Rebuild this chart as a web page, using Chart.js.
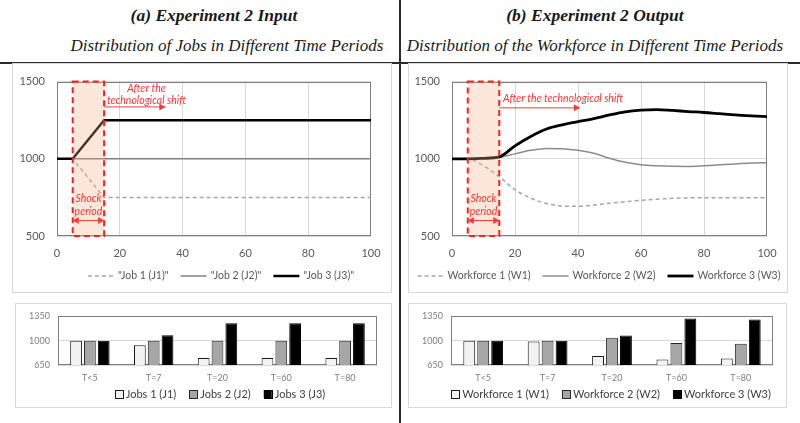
<!DOCTYPE html>
<html>
<head>
<meta charset="utf-8">
<script src="https://cdn.jsdelivr.net/npm/chart.js@4.4.0/dist/chart.umd.min.js"></script>
<style>
  body { margin: 0; width: 800px; height: 423px; background: #fff; position: relative; overflow: hidden; }
  .box { position: absolute; border: 1px solid #d9d9d9; box-sizing: border-box; }
  .box canvas { position: absolute; left: -1px; top: -1px; }
  .ttl { position: absolute; font-family: "Liberation Serif", serif; font-style: italic; color: #1a1a1a;
         white-space: nowrap; transform: translateX(-50%); line-height: 22px; }
  .rule { position: absolute; background: #2b2b2b; }
</style>
</head>
<body>
<div class="ttl" style="left:214px;top:4px;font-size:17.5px;font-weight:bold">(a) Experiment 2 Input</div>
<div class="ttl" style="left:227px;top:35px;font-size:17px">Distribution of Jobs in Different Time Periods</div>
<div class="ttl" style="left:595px;top:4px;font-size:17.5px;font-weight:bold">(b) Experiment 2 Output</div>
<div class="ttl" style="left:595px;top:35px;font-size:17px">Distribution of the Workforce in Different Time Periods</div>
<div class="rule" style="left:0;top:62px;width:800px;height:2px"></div>
<div class="rule" style="left:399px;top:0;width:2px;height:423px"></div>

<div class="box" style="left:12px;top:63px;width:380px;height:230px"><canvas id="jobsLine" width="380" height="230"></canvas></div>
<div class="box" style="left:408px;top:63px;width:380px;height:230px"><canvas id="wfLine" width="380" height="230"></canvas></div>
<div class="box" style="left:15px;top:303px;width:377px;height:105px"><canvas id="jobsBar" width="377" height="105"></canvas></div>
<div class="box" style="left:408px;top:303px;width:379px;height:105px"><canvas id="wfBar" width="379" height="105"></canvas></div>

<script>
// ---- data ----
const jobTimes = [0, 5, 15, 100];
const job1 = [1000, 1000, 750, 750];
const job2 = [1000, 1000, 1000, 1000];
const job3 = [1000, 1000, 1250, 1250];

const wfTimes = [0, 5, 10, 15, 20, 25, 30, 35, 40, 45, 50, 55, 60, 65, 70, 75, 80, 85, 90, 95, 100];
const workforce1 = [1000, 1000, 955, 884, 800, 745, 710, 694, 692, 700, 712, 722, 731, 738, 744, 747, 748, 748, 748, 748, 748];
const workforce2 = [1000, 1000, 1003, 1010, 1032, 1055, 1067, 1065, 1055, 1036, 1003, 977, 962, 955, 951, 950, 955, 961, 967, 972, 975];
const workforce3 = [1000, 1000, 1003, 1012, 1084, 1145, 1193, 1220, 1240, 1260, 1284, 1304, 1315, 1319, 1313, 1306, 1300, 1292, 1284, 1278, 1273];

const periods = ['T<5', 'T=7', 'T=20', 'T=60', 'T=80'];
const jobs1Bars = [1000, 935, 750, 750, 750];
const jobs2Bars = [1000, 1000, 1000, 1000, 1000];
const jobs3Bars = [1000, 1080, 1250, 1250, 1250];
const wf1Bars = [1000, 990, 780, 730, 745];
const wf2Bars = [1000, 1000, 1043, 966, 957];
const wf3Bars = [1000, 1000, 1075, 1318, 1304];

const shockStart = 5, shockEnd = 15;

const pts = (xs, ys) => xs.map((x, i) => ({ x: x, y: ys[i] }));

// plot frame like the Excel plot area border
const plotFrame = {
  id: 'plotFrame',
  beforeDatasetsDraw(chart) {
    const { ctx, chartArea: a } = chart;
    ctx.save();
    ctx.strokeStyle = '#7f7f7f';
    ctx.lineWidth = 1;
    ctx.strokeRect(Math.round(a.left) + 0.5, Math.round(a.top) + 0.5,
                   Math.round(a.right) - Math.round(a.left) - 1, Math.round(a.bottom) - Math.round(a.top) - 1);
    ctx.restore();
  }
};

// legend row under the chart, centred where the Excel legend sits
const bottomLegend = {
  id: 'bottomLegend',
  afterDraw(chart, args, o) {
    const ctx = chart.ctx;
    const sets = chart.data.datasets;
    ctx.save();
    ctx.font = o.font;
    ctx.textBaseline = 'middle';
    ctx.textAlign = 'left';
    const widths = sets.map(ds => o.sample + o.textGap + ctx.measureText(ds.label).width);
    const total = widths.reduce((s, w) => s + w, 0) + o.gap * (sets.length - 1);
    let x = o.center - total / 2;
    sets.forEach((ds, i) => {
      if (o.kind === 'line') {
        ctx.strokeStyle = ds.borderColor;
        ctx.lineWidth = ds.borderWidth;
        ctx.setLineDash(ds.borderDash || []);
        ctx.beginPath(); ctx.moveTo(x, o.y); ctx.lineTo(x + o.sample, o.y); ctx.stroke();
        ctx.setLineDash([]);
      } else {
        ctx.fillStyle = ds.backgroundColor;
        ctx.fillRect(x, o.y - o.sample / 2, o.sample, o.sample);
        ctx.strokeStyle = ds.borderColor;
        ctx.lineWidth = 1;
        ctx.strokeRect(Math.round(x) + 0.5, Math.round(o.y - o.sample / 2) + 0.5, o.sample, o.sample);
      }
      ctx.fillStyle = o.color;
      ctx.fillText(ds.label, x + o.sample + o.textGap, o.y);
      x += widths[i] + o.gap;
    });
    ctx.restore();
  }
};

function arrowHead(ctx, x, y, dir) {
  ctx.beginPath();
  ctx.moveTo(x, y);
  ctx.lineTo(x - dir * 6, y - 3.5);
  ctx.lineTo(x - dir * 6, y + 3.5);
  ctx.closePath();
  ctx.fill();
}

// shock period box + red notes
const shockNotes = {
  id: 'shockNotes',
  afterDatasetsDraw(chart, args, opts) {
    const { ctx, chartArea: a, scales: { x, y } } = chart;
    const x0 = x.getPixelForValue(shockStart), x1 = x.getPixelForValue(shockEnd);
    ctx.save();
    ctx.fillStyle = 'rgba(244,176,132,0.3)';
    ctx.fillRect(x0, a.top, x1 - x0, a.bottom - a.top);
    ctx.setLineDash([6, 4]);
    ctx.strokeStyle = '#ff1f1f';
    ctx.lineWidth = 2;
    ctx.strokeRect(x0, a.top, x1 - x0, a.bottom - a.top);
    ctx.setLineDash([]);

    ctx.fillStyle = '#f23a3a';
    ctx.strokeStyle = '#f23a3a';
    ctx.lineWidth = 1;
    ctx.font = 'italic 10.5px Lato';
    ctx.textBaseline = 'middle';
    ctx.textAlign = 'center';
    const xm = (x0 + x1) / 2;
    ctx.fillText('Shock', xm, y.getPixelForValue(740));
    ctx.fillText('period', xm, y.getPixelForValue(658));
    const ya = y.getPixelForValue(600);
    ctx.beginPath(); ctx.moveTo(x0, ya); ctx.lineTo(x1, ya); ctx.stroke();
    arrowHead(ctx, x1, ya, 1);
    arrowHead(ctx, x0, ya, -1);

    opts.lines.forEach(l => {
      ctx.textAlign = l.align;
      ctx.fillText(l.text, x.getPixelForValue(l.x), y.getPixelForValue(l.y));
    });
    const yb = y.getPixelForValue(opts.arrowY);
    const xe = x.getPixelForValue(opts.arrowTo);
    ctx.beginPath(); ctx.moveTo(x1, yb); ctx.lineTo(xe, yb); ctx.stroke();
    arrowHead(ctx, xe, yb, 1);
    ctx.restore();
  }
};

const tickFont = { family: 'Lato', size: 11 };

function lineOptions(yWidth, legendCenter, notes) {
  return {
    responsive: false,
    animation: false,
    layout: { padding: { left: 0, right: 21, top: 14, bottom: 0 } },
    elements: { point: { radius: 0 } },
    scales: {
      x: {
        type: 'linear', min: 0, max: 100,
        ticks: { stepSize: 20, color: '#595959', font: tickFont, padding: 11, callback: v => String(v) },
        grid: { color: c => (c.tick && (c.tick.value === 0 || c.tick.value === 100)) ? 'rgba(0,0,0,0)' : '#d9d9d9', drawTicks: false },
        border: { display: false },
        afterFit: s => { s.height = 57; }
      },
      y: {
        min: 500, max: 1500,
        ticks: { stepSize: 500, color: '#595959', font: tickFont, padding: 12, callback: v => String(v) },
        grid: { color: '#d9d9d9', drawTicks: false },
        border: { display: false },
        afterFit: s => { s.width = yWidth; }
      }
    },
    plugins: {
      legend: { display: false },
      tooltip: { enabled: false },
      shockNotes: notes,
      bottomLegend: { kind: 'line', font: '10.5px Lato', color: '#595959', sample: 26, textGap: 4, gap: 12, center: legendCenter, y: 213 }
    }
  };
}

new Chart(document.getElementById('jobsLine'), {
  type: 'line',
  data: {
    datasets: [
      { label: '"Job 1 (J1)"', data: pts(jobTimes, job1), borderColor: '#a6a6a6', borderWidth: 1.5, borderDash: [4, 3], order: 2 },
      { label: '"Job 2 (J2)"', data: pts(jobTimes, job2), borderColor: '#808080', borderWidth: 1.5, order: 1 },
      { label: '"Job 3 (J3)"', data: pts(jobTimes, job3), borderColor: '#000000', borderWidth: 2.5, order: 0 }
    ]
  },
  options: lineOptions(45, 209, {
    lines: [
      { text: 'After the', x: 28.5, y: 1456, align: 'center' },
      { text: 'technological shift', x: 28.5, y: 1374, align: 'center' }
    ],
    arrowY: 1336, arrowTo: 34.5
  }),
  plugins: [plotFrame, shockNotes, bottomLegend]
});

new Chart(document.getElementById('wfLine'), {
  type: 'line',
  data: {
    datasets: [
      { label: 'Workforce 1 (W1)', data: pts(wfTimes, workforce1), borderColor: '#a6a6a6', borderWidth: 1.5, borderDash: [4, 3], cubicInterpolationMode: 'monotone', order: 2 },
      { label: 'Workforce 2 (W2)', data: pts(wfTimes, workforce2), borderColor: '#8c8c8c', borderWidth: 1.5, cubicInterpolationMode: 'monotone', order: 1 },
      { label: 'Workforce 3 (W3)', data: pts(wfTimes, workforce3), borderColor: '#000000', borderWidth: 2.8, cubicInterpolationMode: 'monotone', order: 0 }
    ]
  },
  options: lineOptions(44, 191, {
    lines: [{ text: 'After the technological shift', x: 16.2, y: 1387, align: 'left' }],
    arrowY: 1330, arrowTo: 40.6
  }),
  plugins: [plotFrame, shockNotes, bottomLegend]
});

function barOptions(padRight, legendCenter) {
  return {
    responsive: false,
    animation: false,
    layout: { padding: { left: 0, right: padRight, top: 12, bottom: 0 } },
    datasets: { bar: { categoryPercentage: 0.65, barPercentage: 0.85 } },
    scales: {
      x: {
        ticks: { color: '#7f7f7f', font: { family: 'Lato', size: 9 }, padding: 8 },
        grid: { display: false, drawTicks: false },
        border: { display: false },
        afterFit: s => { s.height = 43; }
      },
      y: {
        min: 650, max: 1350,
        ticks: { stepSize: 350, color: '#7f7f7f', font: { family: 'Lato', size: 9 }, padding: 8, callback: v => String(v) },
        grid: { color: '#d9d9d9', drawTicks: false },
        border: { display: false },
        afterFit: s => { s.width = 43; }
      }
    },
    plugins: {
      legend: { display: false },
      tooltip: { enabled: false },
      bottomLegend: { kind: 'box', font: '11px Lato', color: '#404040', sample: 8, textGap: 3, gap: 13, center: legendCenter, y: 91 }
    }
  };
}

function barSets(names, series) {
  const fills = ['#f2f2f2', '#a6a6a6', '#000000'];
  const edges = ['#1a1a1a', '#262626', '#000000'];
  return names.map((n, i) => ({ label: n, data: series[i], backgroundColor: fills[i], borderColor: edges[i], borderWidth: 1 }));
}

new Chart(document.getElementById('jobsBar'), {
  type: 'bar',
  data: { labels: periods, datasets: barSets(['Jobs 1 (J1)', 'Jobs 2 (J2)', 'Jobs 3 (J3)'], [jobs1Bars, jobs2Bars, jobs3Bars]) },
  options: barOptions(15, 205),
  plugins: [plotFrame, bottomLegend]
});

new Chart(document.getElementById('wfBar'), {
  type: 'bar',
  data: { labels: periods, datasets: barSets(['Workforce 1 (W1)', 'Workforce 2 (W2)', 'Workforce 3 (W3)'], [wf1Bars, wf2Bars, wf3Bars]) },
  options: barOptions(14, 203),
  plugins: [plotFrame, bottomLegend]
});
</script>
</body>
</html>
